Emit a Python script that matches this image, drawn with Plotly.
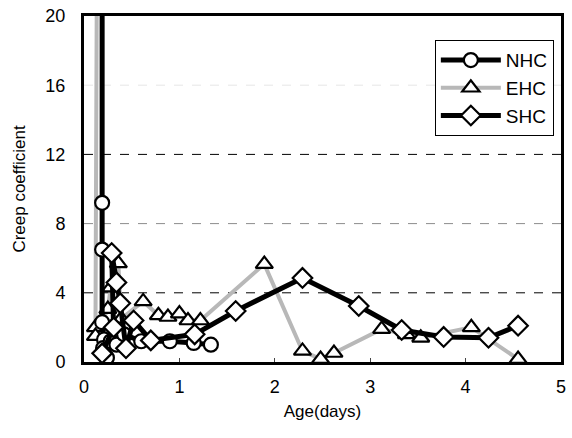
import plotly.graph_objects as go

# ---- data ----
nhc_age = [0.19, 0.19, 0.19, 0.19, 0.21, 0.20, 0.24, 0.28, 0.34, 0.42, 0.60, 0.90, 1.15, 1.33]
nhc_cc  = [30.0, 9.2, 6.5, 2.3, 1.3, 0.8, 0.25, 1.2, 1.0, 1.6, 1.2, 1.2, 1.1, 1.0]

ehc_age = [0.14, 0.12, 0.12, 0.25, 0.28, 0.36, 0.39, 0.62, 0.78, 0.88, 1.00, 1.09, 1.22,
           1.89, 2.29, 2.48, 2.62, 3.12, 3.38, 3.53, 4.06, 4.55]
ehc_cc  = [30.0, 2.0, 1.5, 3.06, 4.3, 5.7, 2.5, 3.5, 2.7, 2.6, 2.8, 2.4, 2.4,
           5.66, 0.64, 0.17, 0.52, 1.9, 1.6, 1.4, 2.0, 0.17]

shc_age = [0.19, 0.31, 0.29, 0.34, 0.38, 0.44, 0.52, 0.70, 1.16, 1.59, 2.29, 2.88, 3.33, 3.77, 4.24, 4.55]
shc_cc  = [0.5, 2.0, 6.3, 4.6, 3.4, 0.8, 2.4, 1.25, 1.6, 2.95, 4.86, 3.24, 1.85, 1.45, 1.4, 2.1]

grid_levels = [4, 8, 12, 16]
grid_alpha = [1.0, 0.45, 1.0, 0.1]
x_ticks = [0, 1, 2, 3, 4, 5]
y_ticks = [0, 4, 8, 12, 16, 20]

fig = go.Figure()

marker_line = dict(color="black", width=2.2)

fig.add_trace(go.Scatter(
    x=ehc_age, y=ehc_cc, name="EHC", mode="lines+markers", legendrank=2,
    line=dict(color="#b8b8b8", width=4),
    marker=dict(symbol="triangle-up", size=15, color="white", line=marker_line),
))
fig.add_trace(go.Scatter(
    x=nhc_age, y=nhc_cc, name="NHC", mode="lines+markers", legendrank=1,
    line=dict(color="black", width=5),
    marker=dict(symbol="circle", size=14, color="white", line=marker_line),
))
fig.add_trace(go.Scatter(
    x=shc_age, y=shc_cc, name="SHC", mode="lines+markers", legendrank=3,
    line=dict(color="black", width=5),
    marker=dict(symbol="diamond", size=15, color="white", line=marker_line),
))

for lvl, a in zip(grid_levels, grid_alpha):
    fig.add_shape(type="line", xref="paper", x0=0, x1=1, yref="y", y0=lvl, y1=lvl,
                  line=dict(color=f"rgba(0,0,0,{a})", width=1, dash="dash"), layer="below")

fig.update_layout(
    width=572, height=438,
    margin=dict(l=84, r=6, t=15, b=76),
    paper_bgcolor="white", plot_bgcolor="white",
    font=dict(family="Liberation Sans, Arial, sans-serif", color="black", size=17),
    legend=dict(
        x=0.985, y=0.93, xanchor="right", yanchor="top",
        traceorder="normal",
        bordercolor="black", borderwidth=1, bgcolor="white",
        font=dict(size=19), itemwidth=60, tracegroupgap=0,
    ),
    showlegend=True,
)

fig.update_xaxes(
    range=[0, 5], tickvals=x_ticks, ticks="inside", ticklen=4, tickwidth=1,
    showgrid=False, zeroline=False, showline=True, linecolor="black", linewidth=3,
    mirror=True, title=dict(text="Age(days)", font=dict(size=17), standoff=10),
    tickfont=dict(size=18), ticklabelstandoff=6,
)
fig.update_yaxes(
    range=[0, 20], tickvals=y_ticks, ticks="", showgrid=False, zeroline=False,
    showline=True, linecolor="black", linewidth=3, mirror=True,
    title=dict(text="Creep coefficient", font=dict(size=17), standoff=16),
    tickfont=dict(size=18), ticklabelstandoff=12,
)

fig.write_html("out.html")
